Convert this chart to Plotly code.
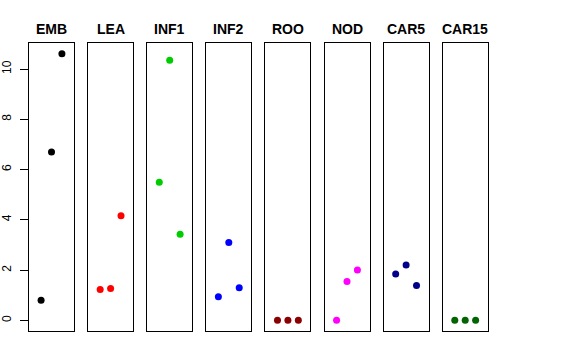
import plotly.graph_objects as go

W, H = 576, 360
tissues = ["EMB", "LEA", "INF1", "INF2", "ROO", "NOD", "CAR5", "CAR15"]
reps = [1, 2, 3]
emb = [0.80, 6.70, 10.61]
lea = [1.23, 1.27, 4.16]
inf1 = [5.49, 10.35, 3.43]
inf2 = [0.94, 3.10, 1.30]
roo = [0.0, 0.0, 0.0]
nod = [0.0, 1.55, 2.00]
car5 = [1.84, 2.20, 1.39]
car15 = [0.0, 0.0, 0.0]
values = [emb, lea, inf1, inf2, roo, nod, car5, car15]
colors = ["#000000", "#FF0000", "#00CD00", "#0000FF", "#8B0000", "#FF00FF", "#00008B", "#006400"]
yticks = [0, 2, 4, 6, 8, 10]

left0, pw, step = 29, 45, 59.1
top, bottom = 43, 331
ymax = max(max(v) for v in values)
yr = [-0.04 * ymax, ymax * 1.04]

fig = go.Figure()
layout = dict(width=W, height=H, margin=dict(l=0, r=0, t=0, b=0, autoexpand=False),
              paper_bgcolor="white", plot_bgcolor="white", showlegend=False,
              font=dict(family="Liberation Sans, Arial, sans-serif", color="black"))
annotations = []
for i, (name, vals, col) in enumerate(zip(tissues, values, colors)):
    n = "" if i == 0 else str(i + 1)
    x0 = left0 + i * step
    fig.add_trace(go.Scatter(x=reps, y=vals, mode="markers",
                             marker=dict(color=col, size=7),
                             xaxis="x" + n, yaxis="y" + n, hoverinfo="skip"))
    layout["xaxis" + n] = dict(domain=[x0 / W, (x0 + pw) / W], range=[-0.16, 4.16],
                               showgrid=False, zeroline=False, showticklabels=False,
                               ticks="", showline=True, mirror=True, linecolor="black",
                               linewidth=1, anchor="y" + n, fixedrange=True,
                               automargin=False)
    ya = dict(domain=[1 - bottom / H, 1 - top / H], range=yr, showgrid=False,
              zeroline=False, showline=True, mirror=True, linecolor="black",
              linewidth=1, anchor="x" + n, fixedrange=True, automargin=False)
    if i == 0:
        ya.update(tickvals=yticks, ticks="outside", ticklen=8, tickcolor="black",
                  tickangle=-90, ticklabelstandoff=4,
                  tickfont=dict(size=12, color="black"))
    else:
        ya.update(showticklabels=False, ticks="")
    layout["yaxis" + n] = ya
    annotations.append(dict(text="<b>%s</b>" % name, x=(x0 + pw / 2) / W,
                            y=1 - 29 / H,
                            xref="paper", yref="paper", showarrow=False,
                            xanchor="center", yanchor="middle",
                            font=dict(size=14, color="black")))
layout["annotations"] = annotations
fig.update_layout(**layout)
fig.write_html("out.html",
               config={"displayModeBar": False, "staticPlot": True},
               post_script="document.body.style.margin='0';document.body.style.overflow='hidden';")
